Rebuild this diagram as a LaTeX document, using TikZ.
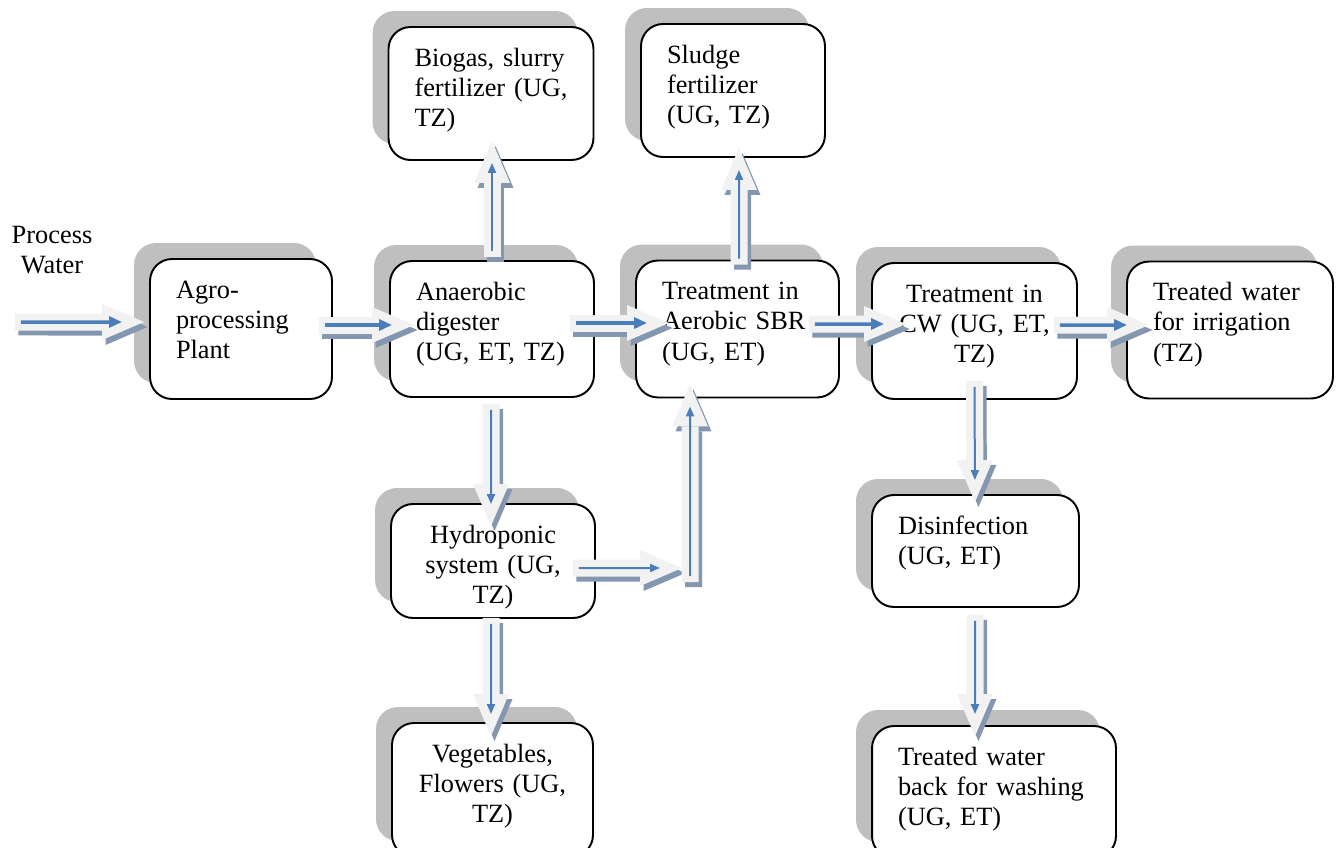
\documentclass[tikz,border=0pt]{standalone}
\usepackage{fontspec}
\setmainfont{Liberation Serif}
\usetikzlibrary{arrows.meta,shadows}

\definecolor{boxshade}{HTML}{BFBFBF}
\definecolor{arrowbody}{HTML}{F2F2F2}
\definecolor{arrowshade}{HTML}{8497B0}
\definecolor{arrowblue}{HTML}{4A7EBB}

\tikzset{
  stage/.style={draw, line width=1.1pt, rounded corners=0.44cm, fill=white,
    inner xsep=0.52cm, inner ysep=0pt, text height=0.78cm, align=left,
    general shadow={fill=boxshade, shadow xshift=-0.32cm, shadow yshift=0.32cm}},
  fattip/.style={-{Triangle[length=0.84cm, width=0.72cm, line width=0pt]}},
  flow/.style={line width=0.34cm, draw=arrowbody, fattip,
    preaction={draw=arrowshade, line width=0.34cm, fattip, transform canvas={shift={(0.07cm,-0.1cm)}}},
    postaction={draw=arrowblue, line width=#1, shorten <=0.12cm, shorten >=0.44cm,
      -{Triangle[length=0.12cm 2, width=0.08cm 2]}}},
  flow/.default=0.04cm
}

\begin{document}
\begin{tikzpicture}[x=0.02cm, y=-0.02cm, font=\fontsize{15pt}{17.3pt}\selectfont]
    \useasboundingbox (0,0) rectangle (1339,848);

    % ノード
    \node[align=center] (procw) at (52,250) {Process\\Water};
    \node[stage, text width=2.6cm, text depth=2.02cm] (agro) at (241,329) {Agro-\\processing\\Plant};
    \node[stage, text width=3.04cm, text depth=1.94cm] (anaer) at (492,329) {Anaerobic\\digester\\(UG, ET, TZ)};
    \node[stage, text width=3.06cm, text depth=1.88cm] (biogas) at (491,93.5) {Biogas, slurry\\fertilizer (UG,\\TZ)};
    \node[stage, text width=2.64cm, text depth=1.88cm] (sludge) at (733,90.5) {Sludge\\fertilizer\\(UG, TZ)};
    \node[stage, text width=3.02cm, text depth=1.96cm] (sbr) at (737.5,329) {Treatment in\\Aerobic SBR\\(UG, ET)};
    \node[stage, text width=3.06cm, text depth=1.94cm, align=center] (cw) at (974.5,331) {Treatment in\\CW (UG, ET,\\TZ)};
    \node[stage, text width=3.08cm, text depth=1.96cm] (irrig) at (1230,330) {Treated water\\for irrigation\\(TZ)};
    \node[stage, text width=3.04cm, text depth=1.5cm, align=center] (hydro) at (493,561) {Hydroponic\\system (UG,\\TZ)};
    \node[stage, text width=2.98cm, text depth=1.9cm, align=center] (veg) at (492.5,790) {Vegetables,\\Flowers (UG,\\TZ)};
    \node[stage, text width=3.1cm, text depth=1.46cm] (disinf) at (975.5,551) {Disinfection\\(UG, ET)};
    \node[stage, text width=3.84cm, text depth=1.86cm] (back) at (994,792) {Treated water\\back for washing\\(UG, ET)};

    % 矢印
    \coordinate (pw) at (15,322);
    \coordinate (hturn) at (682,568);
    \coordinate (vturn) at (690,582);
    \draw[flow=0.07cm] (pw) -- ([xshift=-0.1cm,yshift=0.14cm]agro.west);
    \draw[flow=0.07cm] ([xshift=-0.28cm,yshift=0.08cm]agro.east) -- ([xshift=0.5cm,yshift=0.08cm]anaer.west);
    \draw[flow=0.07cm] ([xshift=-0.5cm,yshift=0.12cm]anaer.east) -- ([xshift=0.68cm,yshift=0.12cm]sbr.west);
    \draw[flow=0.07cm] ([xshift=-0.62cm,yshift=0.1cm]sbr.east) -- ([xshift=0.7cm,yshift=0.14cm]cw.west);
    \draw[flow=0.07cm] ([xshift=-0.48cm,yshift=0.12cm]cw.east) -- ([xshift=0.46cm,yshift=0.1cm]irrig.west);
    \draw[flow] ([yshift=0.06cm]anaer.north) -- ([xshift=0.02cm,yshift=0.4cm]biogas.south);
    \draw[flow] ([xshift=0.03cm,yshift=-0.1cm]sbr.north) -- ([xshift=0.12cm,yshift=0.2cm]sludge.south);
    \draw[flow] ([xshift=-0.02cm,yshift=-0.12cm]anaer.south) -- ([xshift=-0.04cm,yshift=-0.46cm]hydro.north);
    \draw[flow] ([xshift=-0.46cm,yshift=-0.14cm]hydro.east) -- (hturn);
    \draw[flow] (vturn) -- ([xshift=-0.95cm,yshift=0.28cm]sbr.south);
    \draw[flow] ([xshift=-0.04cm,yshift=0.02cm]hydro.south) -- ([xshift=-0.03cm,yshift=-0.28cm]veg.north);
    \draw[flow] ([yshift=0.38cm]cw.south) -- ([xshift=-0.01cm,yshift=-0.16cm]disinf.north);
    \draw[flow] ([xshift=-0.01cm,yshift=-0.14cm]disinf.south) -- ([xshift=-0.38cm,yshift=-0.22cm]back.north);
\end{tikzpicture}
\end{document}
